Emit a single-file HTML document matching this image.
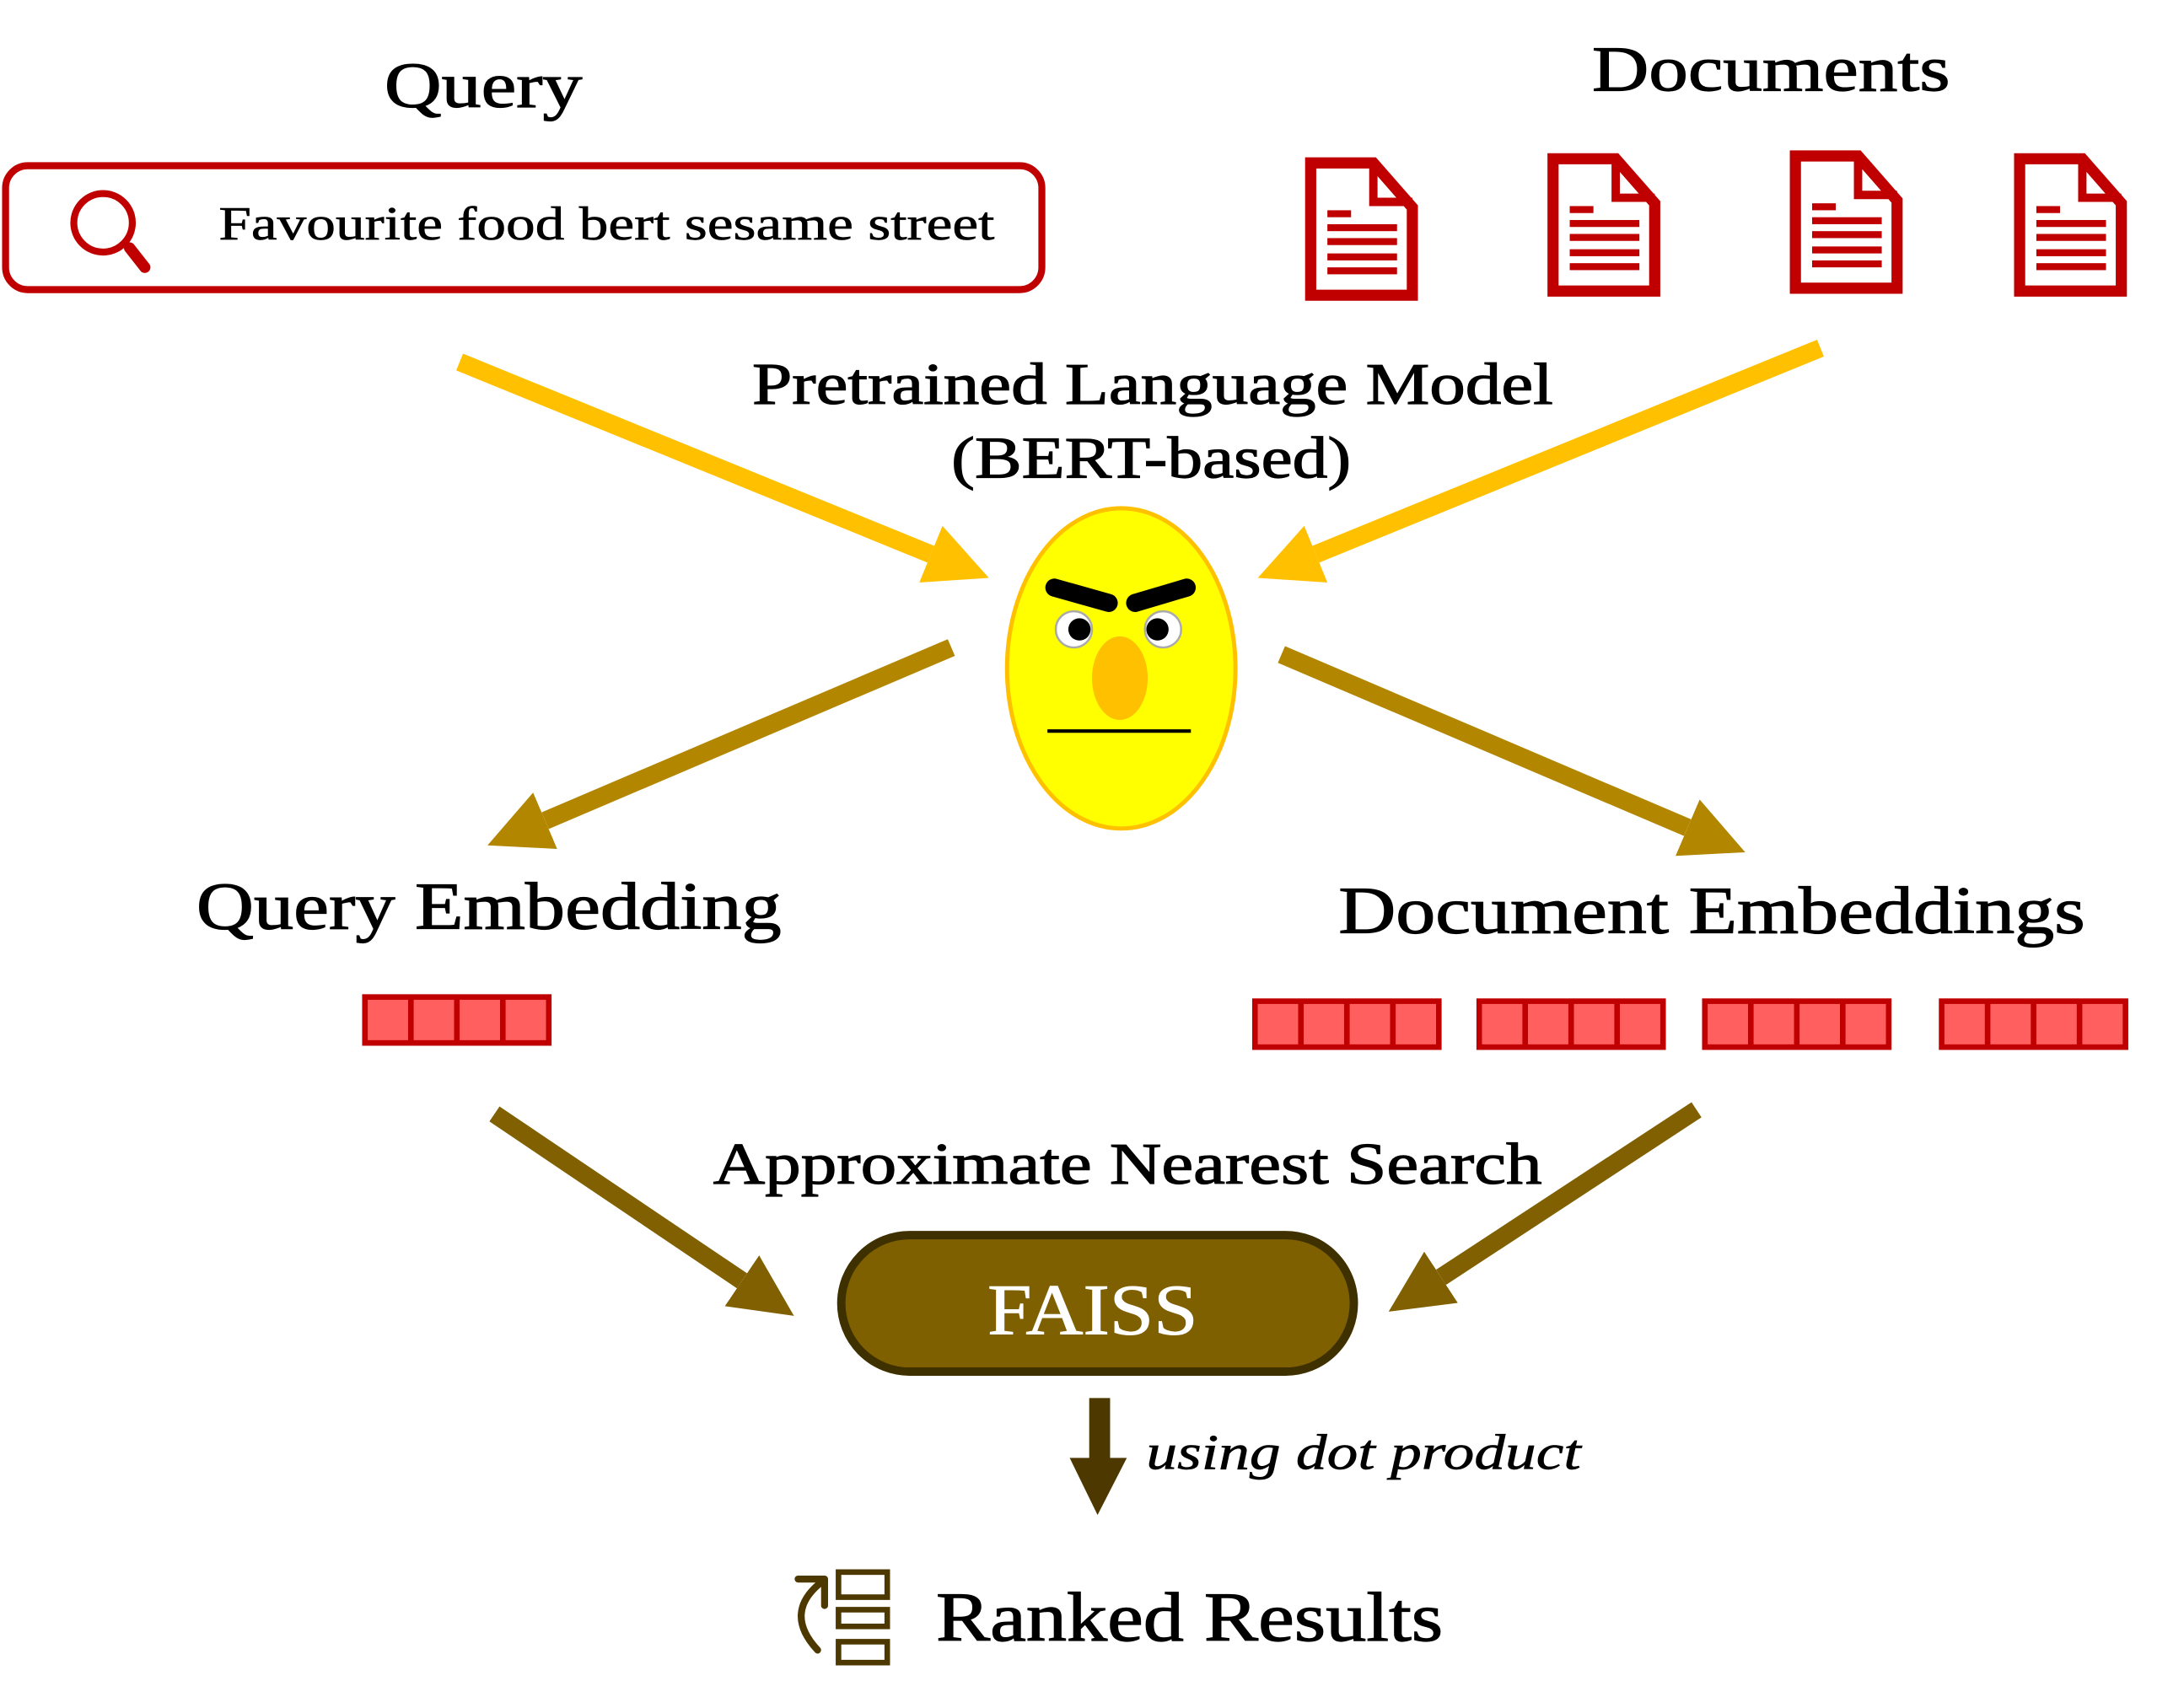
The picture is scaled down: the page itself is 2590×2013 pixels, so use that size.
<!DOCTYPE html>
<html><head><meta charset="utf-8"><style>html,body{margin:0;padding:0;background:#fff}svg{display:block}</style></head>
<body>
<svg width="2590" height="2013" viewBox="0 0 1568 1218.7" preserveAspectRatio="none" xmlns="http://www.w3.org/2000/svg" font-family="'Liberation Serif', serif">
<defs>
<marker id="hy" markerUnits="userSpaceOnUse" markerWidth="60" markerHeight="60" refX="0" refY="22" orient="auto" viewBox="0 -8 60 60"><path d="M0,0 L45,22 L0,44 z" fill="#ffc000"/></marker>
<marker id="hb" markerUnits="userSpaceOnUse" markerWidth="60" markerHeight="60" refX="0" refY="22" orient="auto" viewBox="0 -8 60 60"><path d="M0,0 L45,22 L0,44 z" fill="#b38600"/></marker>
<marker id="hc" markerUnits="userSpaceOnUse" markerWidth="60" markerHeight="60" refX="0" refY="22" orient="auto" viewBox="0 -8 60 60"><path d="M0,0 L45,22 L0,44 z" fill="#806000"/></marker>
<g id="doc">
<path d="M4,4 H49 L77,36 V99 H4 Z" fill="#fff" stroke="#c00000" stroke-width="8"/>
<path d="M49,4 V32 H77" fill="none" stroke="#c00000" stroke-width="6"/>
<rect x="16" y="38" width="17" height="5" fill="#c00000"/>
<rect x="16" y="48" width="50" height="5" fill="#c00000"/>
<rect x="16" y="58" width="50" height="5" fill="#c00000"/>
<rect x="16" y="69" width="50" height="5" fill="#c00000"/>
<rect x="16" y="79" width="50" height="5" fill="#c00000"/>
</g>
<g id="emb">
<rect x="2" y="2" width="132" height="33" fill="#ff5f5f" stroke="#c00000" stroke-width="4"/>
<rect x="33" y="2" width="4" height="33" fill="#c00000"/>
<rect x="66" y="2" width="4" height="33" fill="#c00000"/>
<rect x="99" y="2" width="4" height="33" fill="#c00000"/>
</g>
</defs>

<g stroke="#000" stroke-width="0.7">
<text x="276" y="77" font-size="46" textLength="142" lengthAdjust="spacingAndGlyphs">Query</text>
<text x="1143" y="65" font-size="46" textLength="257" lengthAdjust="spacingAndGlyphs">Documents</text>
<text x="157" y="172" font-size="34" textLength="557" lengthAdjust="spacingAndGlyphs" stroke-width="0.4">Favourite food bert sesame street</text>
<text x="540" y="290" font-size="42" textLength="575" lengthAdjust="spacingAndGlyphs">Pretrained Language Model</text>
<text x="683" y="343" font-size="42" textLength="287" lengthAdjust="spacingAndGlyphs">(BERT-based)</text>
<text x="141" y="667" font-size="48" textLength="420" lengthAdjust="spacingAndGlyphs">Query Embedding</text>
<text x="961" y="670" font-size="48" textLength="536" lengthAdjust="spacingAndGlyphs">Document Embeddings</text>
<text x="512" y="850" font-size="42" textLength="595" lengthAdjust="spacingAndGlyphs">Approximate Nearest Search</text>
<text x="823" y="1055" font-size="36" font-style="italic" textLength="312" lengthAdjust="spacingAndGlyphs" stroke-width="0.4">using dot product</text>
<text x="672" y="1178" font-size="50" textLength="364" lengthAdjust="spacingAndGlyphs">Ranked Results</text>
</g>

<rect x="4" y="119" width="744" height="89" rx="16" fill="#fff" stroke="#c00000" stroke-width="5"/>
<circle cx="74" cy="160" r="21" fill="none" stroke="#c00000" stroke-width="5"/>
<line x1="93" y1="178" x2="104" y2="192" stroke="#c00000" stroke-width="8" stroke-linecap="round"/>
<text x="157" y="172" font-size="34" textLength="557" lengthAdjust="spacingAndGlyphs" stroke="#000" stroke-width="0.4">Favourite food bert sesame street</text>

<use href="#doc" x="937" y="113"/>
<use href="#doc" x="1111" y="110"/>
<use href="#doc" x="1285" y="108"/>
<use href="#doc" x="1446" y="110"/>

<line x1="330" y1="260" x2="668.3" y2="398" stroke="#ffc000" stroke-width="13" marker-end="url(#hy)"/>
<line x1="1307" y1="250" x2="944.7" y2="398" stroke="#ffc000" stroke-width="13" marker-end="url(#hy)"/>

<ellipse cx="805" cy="480" rx="82" ry="115" fill="#ffff00" stroke="#ffc000" stroke-width="3"/>
<line x1="757" y1="422" x2="796" y2="433" stroke="#000" stroke-width="13" stroke-linecap="round"/>
<line x1="815" y1="433" x2="852" y2="422" stroke="#000" stroke-width="13" stroke-linecap="round"/>
<circle cx="771" cy="452" r="13" fill="#fff" stroke="#aaa" stroke-width="1.5"/>
<circle cx="775" cy="452" r="8" fill="#000"/>
<circle cx="835" cy="452" r="13" fill="#fff" stroke="#aaa" stroke-width="1.5"/>
<circle cx="831" cy="452" r="8" fill="#000"/>
<ellipse cx="804" cy="487" rx="20" ry="30" fill="#ffc000"/>
<line x1="752" y1="525" x2="855" y2="525" stroke="#000" stroke-width="2.5"/>

<line x1="683" y1="465" x2="391.4" y2="589.4" stroke="#b38600" stroke-width="13" marker-end="url(#hb)"/>
<line x1="920" y1="470" x2="1211.6" y2="594.4" stroke="#b38600" stroke-width="13" marker-end="url(#hb)"/>

<use href="#emb" x="260" y="714"/>
<use href="#emb" x="899" y="717"/>
<use href="#emb" x="1060" y="717"/>
<use href="#emb" x="1222" y="717"/>
<use href="#emb" x="1392" y="717"/>

<line x1="355" y1="800" x2="532.7" y2="919.8" stroke="#806000" stroke-width="13" marker-end="url(#hc)"/>
<line x1="1218" y1="797" x2="1034.6" y2="917.3" stroke="#806000" stroke-width="13" marker-end="url(#hc)"/>

<rect x="604" y="887" width="368" height="98" rx="49" fill="#7f6000" stroke="#3f3000" stroke-width="6"/>
<text x="709" y="958" font-size="52" fill="#fff" stroke="#fff" stroke-width="0.6" textLength="151" lengthAdjust="spacingAndGlyphs">FAISS</text>

<rect x="782" y="1004" width="15" height="45" fill="#4d3800"/>
<polygon points="768,1047 809,1047 788,1088" fill="#4d3800"/>

<rect x="602" y="1129" width="35" height="18" fill="none" stroke="#4d3800" stroke-width="4"/>
<rect x="602" y="1156" width="35" height="12" fill="none" stroke="#4d3800" stroke-width="4"/>
<rect x="602" y="1179" width="35" height="15" fill="none" stroke="#4d3800" stroke-width="4"/>
<path d="M587,1185 Q562,1158 590,1136" fill="none" stroke="#4d3800" stroke-width="5" stroke-linecap="round"/>
<path d="M573,1134 H592 V1153" fill="none" stroke="#4d3800" stroke-width="5" stroke-linecap="round" stroke-linejoin="round"/>
</svg>
</body></html>
